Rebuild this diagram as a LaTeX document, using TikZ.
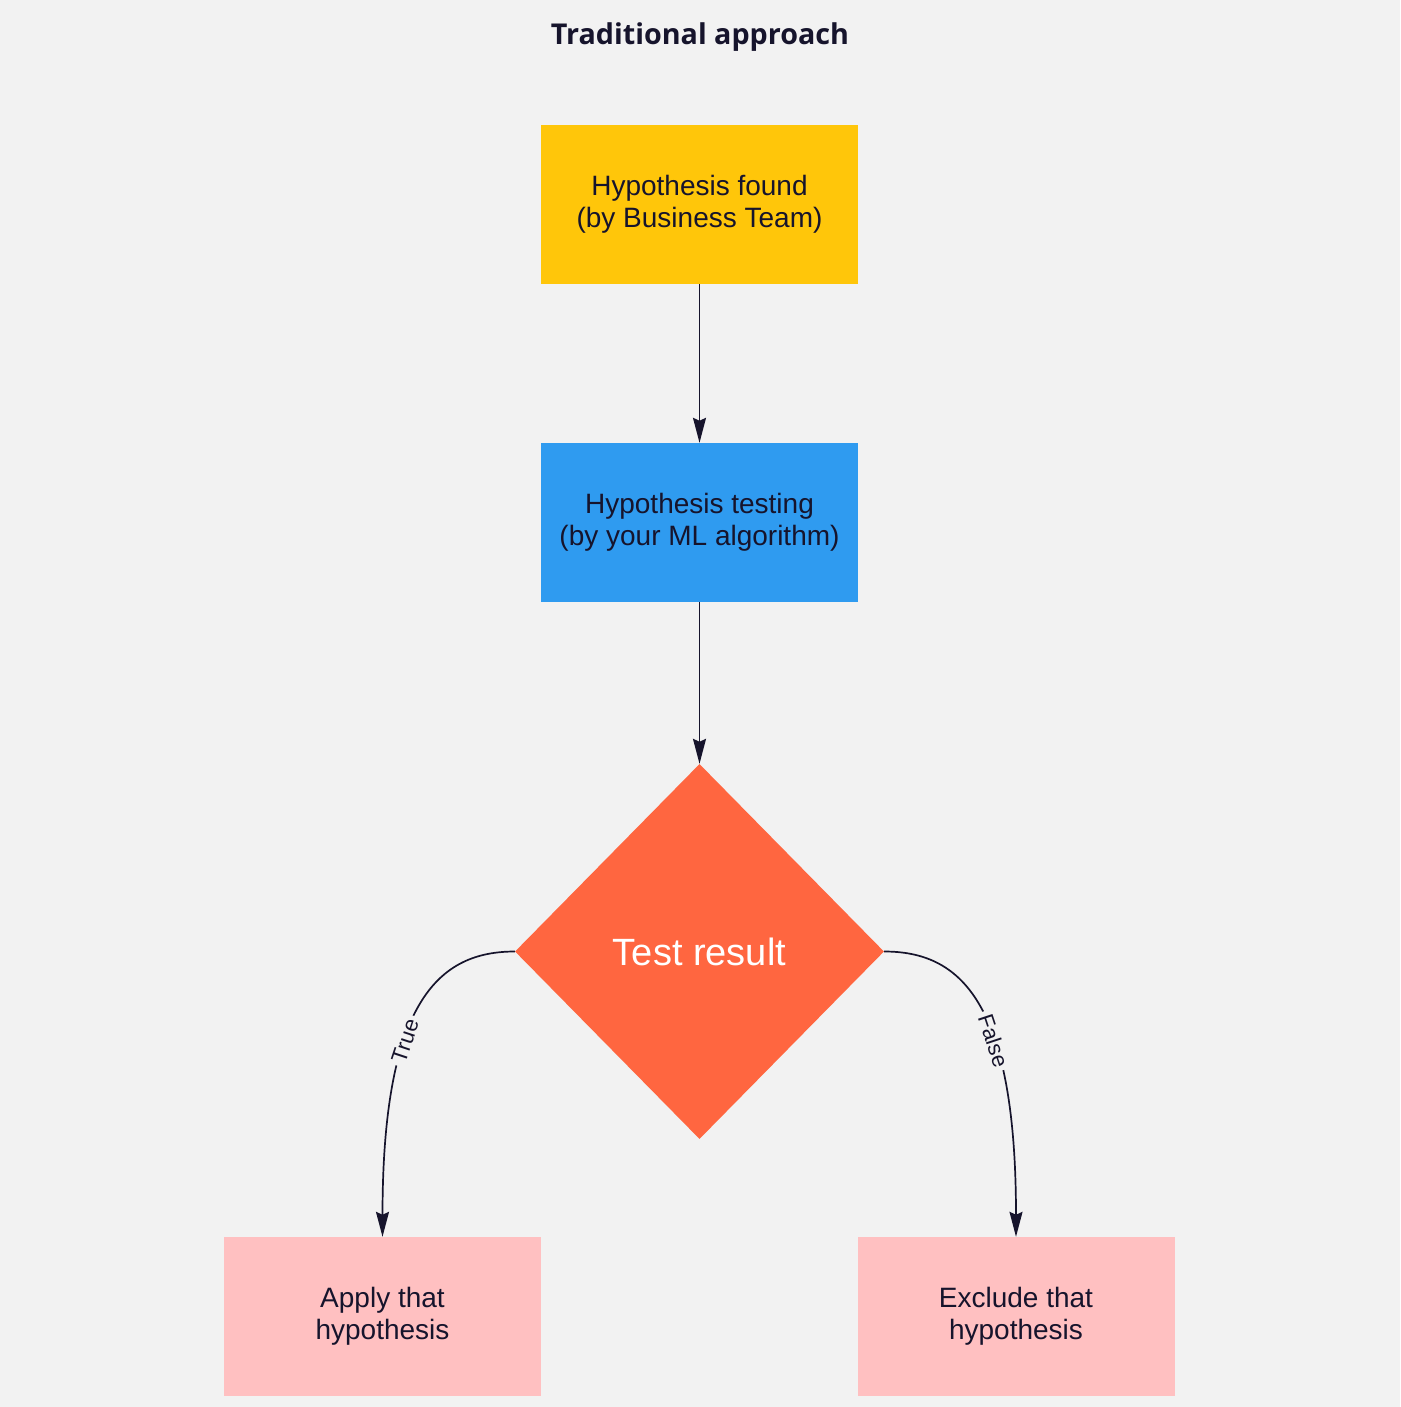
\documentclass[tikz,border=0pt]{standalone}
\usepackage{fontspec}
\setmainfont{Liberation Sans}
\newfontfamily\titlefont{Open Sans}
\usetikzlibrary{shapes.geometric,arrows.meta}
\definecolor{bgc}{RGB}{242,242,242}
\definecolor{inkc}{RGB}{22,20,44}
\definecolor{yellowc}{RGB}{255,198,10}
\definecolor{bluec}{RGB}{47,155,240}
\definecolor{redc}{RGB}{255,102,64}
\definecolor{pinkc}{RGB}{255,192,193}
\tikzset{
  boxstyle/.style={rectangle, minimum width=317pt, minimum height=159pt, inner sep=0pt,
    align=center, text=inkc, font=\fontsize{28}{32}\selectfont},
  conn/.style={draw=inkc, line width=1.7pt, -{Stealth[length=25pt,width=13pt,inset=3pt]}},
  lbl/.style={fill=bgc, text=inkc, inner sep=4pt, font=\fontsize{22}{24}\selectfont, sloped}
}
\begin{document}
\begin{tikzpicture}[x=1pt,y=-1pt]
\fill[bgc] (0,0) rectangle (1400,1407);
\useasboundingbox (0,0) rectangle (1400,1407);
\node[text=inkc, font=\titlefont\bfseries\fontsize{28.7}{32}\selectfont] (title) at (700,37) {Traditional approach};
\node[boxstyle, fill=yellowc] (found) at (699.5,204.5) {Hypothesis found\\(by Business Team)};
\node[boxstyle, fill=bluec] (testing) at (699.5,522.5) {Hypothesis testing\\(by your ML algorithm)};
\node[diamond, fill=redc, minimum width=369pt, minimum height=375pt, inner sep=0pt,
  text=white, font=\fontsize{38}{40}\selectfont] (result) at (699.5,951.5) {Test result};
\node[boxstyle, fill=pinkc] (apply) at (382.5,1316.5) {Apply that\\hypothesis};
\node[boxstyle, fill=pinkc] (exclude) at (1016,1316.5) {Exclude that\\hypothesis};
\draw[conn] (found.south) -- (testing.north);
\draw[conn] (testing.south) -- (result.north);
\draw[conn] (result.west) .. controls +(-75,0) and +(0,-237) .. (apply.north)
  node[lbl, pos=0.62] {True};
\draw[conn] (result.east) .. controls +(75,0) and +(0,-237) .. (exclude.north)
  node[lbl, pos=0.62] {False};
\end{tikzpicture}
\end{document}
